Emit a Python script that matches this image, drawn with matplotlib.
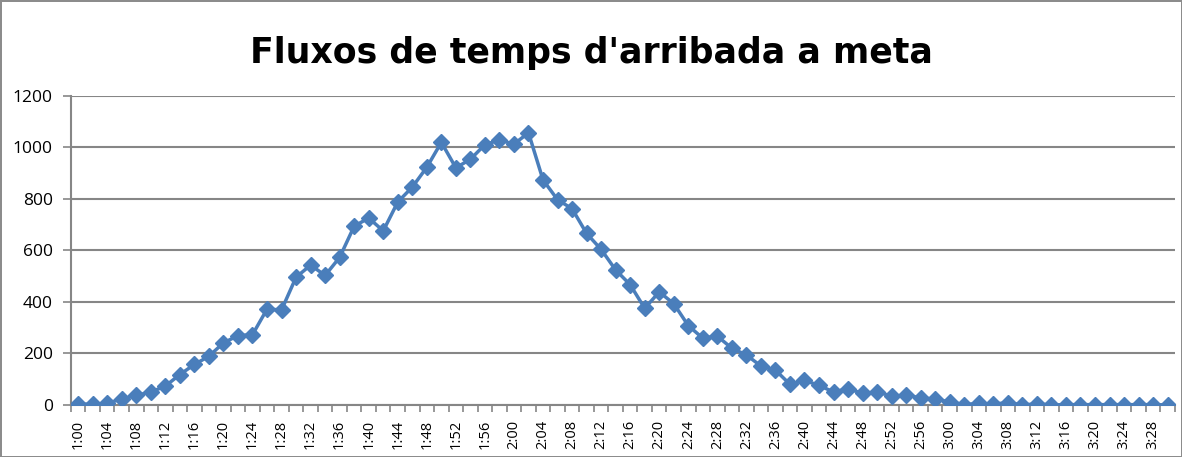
import matplotlib
matplotlib.use('Agg')
import matplotlib.pyplot as plt
import numpy as np

# arrival counts every 2 minutes, 1:00 to 3:30
times = [f'{h}:{m:02d}' for h in (1, 2, 3) for m in range(0, 60, 2)][:76]
counts = [3, 3, 6, 24, 37, 50, 73, 118, 157, 189, 241, 269, 273, 372, 369,
          496, 543, 503, 573, 694, 726, 676, 788,
          846, 923, 1020, 921, 954, 1011, 1029, 1013, 1057, 874, 797, 762,
          666, 604, 524, 467, 375, 439, 393, 308, 259, 267, 220, 194, 151,
          135, 80,
          95, 76, 50, 63, 45, 50, 35, 37, 28, 22, 12, 1, 6, 3, 9, 0, 4, 0,
          1, 1, 1, 1, 1, 1, 1, 0]
yticks = [0, 200, 400, 600, 800, 1000, 1200]

plt.rcParams['font.family'] = ['Open Sans', 'DejaVu Sans']

fig = plt.figure(figsize=(11.82, 4.57), dpi=100)
fig.patch.set_edgecolor('#8c8c8c')
fig.patch.set_linewidth(2)
ax = fig.add_axes([0.060, 0.114, 0.934, 0.676])

x = np.arange(len(counts))
ax.plot(x, counts, color='#4a7ebb', linewidth=2.5, marker='D',
        markersize=8, markerfacecolor='#4a7ebb', markeredgecolor='#4a7ebb',
        zorder=3)

ax.set_xlim(-0.5, len(counts) - 0.5)
ax.set_ylim(0, 1200)
ax.set_yticks(yticks)
ax.tick_params(axis='y', labelsize=12.5, length=6, color='#868686',
               width=1.2, pad=7)
ax.yaxis.grid(True, color='#868686', linewidth=1.5)
ax.set_axisbelow(True)

ax.set_xticks(x[::2])
ax.set_xticklabels(times[::2], rotation=90, fontsize=10.5)
ax.set_xticks(np.arange(len(counts) + 1) - 0.5, minor=True)
ax.tick_params(axis='x', which='major', length=0, pad=11)
ax.tick_params(axis='x', which='minor', length=5, color='#868686', width=1.2)

for side in ('top', 'right'):
    ax.spines[side].set_visible(False)
for side in ('left', 'bottom'):
    ax.spines[side].set_color('#868686')
    ax.spines[side].set_linewidth(1.5)

fig.text(0.5, 0.862, "Fluxos de temps d'arribada a meta", fontsize=25,
         fontweight='bold', family='DejaVu Sans', ha='center', va='baseline')

fig.savefig('out.png', dpi=100)
